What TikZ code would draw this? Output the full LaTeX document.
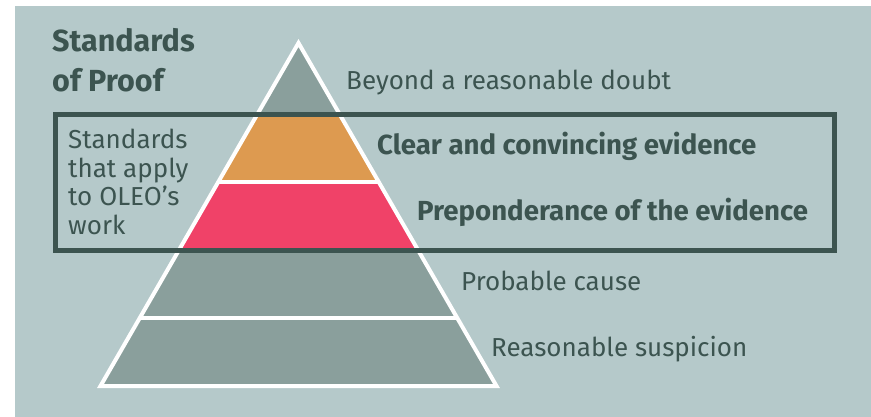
\documentclass[tikz,border=0pt]{standalone}
\usepackage{fontspec}
\setmainfont{Fira Sans}
\usetikzlibrary{calc,positioning}
\definecolor{bgcol}{HTML}{B5C9CA}
\definecolor{layergray}{HTML}{8A9F9C}
\definecolor{layerorange}{HTML}{DD9A50}
\definecolor{layerred}{HTML}{F04268}
\definecolor{darktext}{HTML}{3C5450}
\tikzset{
	lvllabel/.style={anchor=base west,inner sep=0pt,text=darktext,font=\fontsize{26}{29}\selectfont},
	boldlabel/.style={lvllabel,font=\fontsize{27.6}{29}\selectfont\bfseries},
	titlelabel/.style={lvllabel,font=\fontsize{30.5}{40}\selectfont\bfseries},
}

\begin{document}
\begin{tikzpicture}[x=1pt,y=-1pt]
	% page and background
	\fill[white] (0,0) rectangle (871,417);
	\useasboundingbox (0,0) rectangle (871,417);
	\fill[bgcol] (15,6) rectangle (871,417);
	%% the pyramid corners
	\coordinate (apex) at (298.5,43);
	\coordinate (bl) at (100.5,386);
	\coordinate (br) at (496.5,386);
	% layer boundaries on both sides
	\foreach \t [count=\i] in {0.21,0.405,0.6035,0.8017}{
		\coordinate (l\i) at ($(apex)!\t!(bl)$);
		\coordinate (r\i) at ($(apex)!\t!(br)$);
	}
	%% the layers
	\fill[layergray] (apex) -- (bl) -- (br) -- cycle;
	\fill[layerorange] (l1) -- (r1) -- (r2) -- (l2) -- cycle;
	\fill[layerred] (l2) -- (r2) -- (r3) -- (l3) -- cycle;
	\draw[white,line width=4pt] (l2) -- (r2) (l4) -- (r4);
	\draw[white,line width=4pt,line join=miter] (apex) -- (bl) -- (br) -- cycle;
	%% the frame round the standards that apply
	\draw[darktext,line width=5pt] (55.5,115) rectangle (834.5,250.5);
	%% the labels
	\node[titlelabel] (title1) at (52,51.7) {Standards};
	\node[titlelabel] (title2) at (52,91.7) {of Proof};
	\node[lvllabel,align=left] (applies) at (68,235) {Standards\\that apply\\to OLEO’s\\work};
	\node[lvllabel] (beyond) at (346,89.3) {Beyond a reasonable doubt};
	\node[boldlabel] (clear) at (377,154.3) {Clear and convincing evidence};
	\node[boldlabel] (prepon) at (417,220.7) {Preponderance of the evidence};
	\node[lvllabel] (probable) at (461,290.7) {Probable cause};
	\node[lvllabel] (suspicion) at (491,356.7) {Reasonable suspicion};
\end{tikzpicture}
\end{document}
